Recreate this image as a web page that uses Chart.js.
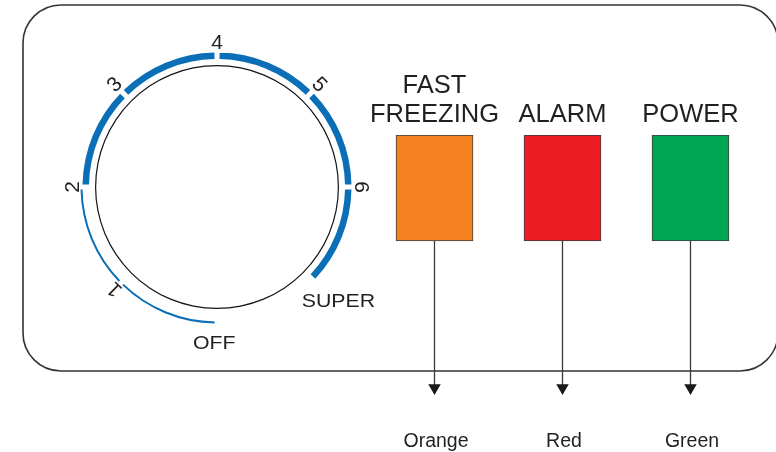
<!DOCTYPE html>
<html><head><meta charset="utf-8">
<script src="https://cdn.jsdelivr.net/npm/chart.js@4.4.1/dist/chart.umd.min.js"></script>
<style>
html,body{margin:0;padding:0;background:#fff;}
#wrap{position:relative;width:776px;height:452px;overflow:hidden;background:#fff;}
#wrap canvas{position:absolute;left:0;top:0;}
</style></head><body>
<div id="wrap"><canvas id="panel" width="776" height="452"></canvas><canvas id="dial" width="776" height="452"></canvas></div>
<script>
// ---------- data ----------
const dialMarks = ['OFF', '1', '2', '3', '4', '5', '6', 'SUPER'];
const dialSpans = [44, 45, 45, 45, 45, 45, 43];   // degrees between consecutive dial marks
const thinSpans = 2;                               // OFF→1 and 1→2 sit on the thin track
const ledNames = ['FAST FREEZING', 'ALARM', 'POWER'];
const ledTitleLines = [['FAST', 'FREEZING'], ['ALARM'], ['POWER']];
const ledColorNames = ['Orange', 'Red', 'Green'];
const ledLit = [1, 1, 1];

// ---------- style / layout ----------
const FONT = '"Liberation Sans", Arial, Helvetica, sans-serif';
const INK = '#231f20';
const BLUE = '#0b6fb7';
const CLEAR = 'rgba(0,0,0,0)';
const ledFills = ['#f58220', '#ed1c24', '#00a651'];
const DIAL_START = 181;   // deg clockwise from 12 o'clock where OFF sits
const GAP = 2.2;          // deg gap at every inner mark
const ARROW_LEN = 1.385;  // arrow length in lamp heights
const Y_MIN = -211 / 106; // lower end of the panel scale, in lamp heights

// mark angles (deg, clockwise from top)
const markDeg = [DIAL_START];
dialSpans.forEach((s, i) => markDeg.push(markDeg[i] + s));
const lastMark = dialMarks.length - 1;

function track(fromMark, toMark) {
  const data = [], colors = [];
  let rotation = null, prevEnd = null;
  for (let k = fromMark; k < toMark; k++) {
    const s = markDeg[k] + (k > 0 ? GAP / 2 : 0);
    const e = markDeg[k + 1] - (k + 1 < lastMark ? GAP / 2 : 0);
    if (rotation === null) rotation = s;
    else { data.push(s - prevEnd); colors.push(CLEAR); }
    data.push(e - s); colors.push(BLUE);
    prevEnd = e;
  }
  return { data, backgroundColor: colors, rotation, circumference: prevEnd - rotation };
}

const arcBase = { borderWidth: 0, hoverOffset: 0, offset: 0, spacing: 0 };
const thinTrack  = Object.assign({ label: 'thin',  weight: 2 },   track(0, thinSpans), arcBase);
const thickTrack = Object.assign({ label: 'thick', weight: 6.5 }, track(thinSpans, lastMark), arcBase);
const spacer = Object.assign({ label: 'spacer', weight: 6, data: [360], backgroundColor: [CLEAR] }, arcBase);
const knob   = Object.assign({ label: 'knob',   weight: 1.2, data: [360], backgroundColor: ['#151515'] }, arcBase);

const dialLabels = {
  id: 'dialLabels',
  afterDraw(chart) {
    const ctx = chart.ctx;
    const first = chart.getDatasetMeta(0).data[0];
    const cx = first.x, cy = first.y;
    let deg = first.startAngle * 180 / Math.PI + 90;
    ctx.save();
    ctx.fillStyle = INK;
    ctx.textAlign = 'center';
    ctx.textBaseline = 'alphabetic';
    dialMarks.forEach((m, k) => {
      if (k > 0) deg += dialSpans[k - 1];
      const t = deg * Math.PI / 180;
      if (k === 0 || k === lastMark) {
        const r = k === 0 ? 155 : 166;
        const size = 19;
        ctx.font = size + 'px ' + FONT;
        ctx.save();
        ctx.translate(cx + r * Math.sin(t), cy - r * Math.cos(t));
        ctx.scale(1.12, 1);
        ctx.fillText(m, 0, size * 0.358);
        ctx.restore();
      } else {
        const r = 146;
        const size = 21;
        ctx.font = size + 'px ' + FONT;
        ctx.save();
        ctx.translate(cx + r * Math.sin(t), cy - r * Math.cos(t));
        ctx.rotate(t);
        ctx.fillText(m, 0, size * 0.358);
        ctx.restore();
      }
    });
    ctx.restore();
  }
};

new Chart(document.getElementById('dial'), {
  type: 'doughnut',
  data: { labels: [], datasets: [thinTrack, thickTrack, spacer, knob] },
  options: {
    responsive: false, animation: false, events: [],
    cutout: 120.8,
    layout: { autoPadding: false, padding: { left: 80.5, top: 50.5, right: 422.5, bottom: 128.5 } },
    plugins: { legend: { display: false }, tooltip: { enabled: false } }
  },
  plugins: [dialLabels]
});

const panelDecor = {
  id: 'panelDecor',
  beforeDraw(chart) {
    const ctx = chart.ctx;
    const x = 23, y = 5, w = 755, h = 366, r = 38;
    ctx.save();
    ctx.beginPath();
    ctx.moveTo(x + r, y);
    ctx.lineTo(x + w - r, y);
    ctx.arcTo(x + w, y, x + w, y + r, r);
    ctx.lineTo(x + w, y + h - r);
    ctx.arcTo(x + w, y + h, x + w - r, y + h, r);
    ctx.lineTo(x + r, y + h);
    ctx.arcTo(x, y + h, x, y + h - r, r);
    ctx.lineTo(x, y + r);
    ctx.arcTo(x, y, x + r, y, r);
    ctx.closePath();
    ctx.strokeStyle = '#333';
    ctx.lineWidth = 1.6;
    ctx.stroke();
    ctx.restore();
  },
  afterDatasetsDraw(chart) {
    const ctx = chart.ctx;
    const bars = chart.getDatasetMeta(0).data;
    ctx.save();
    ctx.fillStyle = INK;
    ctx.textAlign = 'center';
    ctx.textBaseline = 'alphabetic';
    bars.forEach((bar, i) => {
      const lines = ledTitleLines[i];
      const tSize = 25.5;
      ctx.font = tSize + 'px ' + FONT;
      lines.forEach((ln, j) => {
        const cyLine = bar.y - 22.5 - (lines.length - 1 - j) * 29;
        ctx.fillText(ln, bar.x, cyLine + tSize * 0.358);
      });
      const tip = chart.getDatasetMeta(1 + i).data[1];
      const nSize = 19.5;
      ctx.font = nSize + 'px ' + FONT;
      ctx.fillText(ledColorNames[i], tip.x + 1.5, tip.y + 52 + nSize * 0.358);
    });
    ctx.restore();
  }
};

new Chart(document.getElementById('panel'), {
  type: 'bar',
  data: {
    labels: ledNames,
    datasets: [
      { type: 'bar', label: 'lamps', data: ledLit.map(v => [0, v]), backgroundColor: ledFills,
        borderColor: '#3c3c3c', borderWidth: 1, borderSkipped: false, barThickness: 77 },
      ...ledNames.map((n, i) => ({
        type: 'line', label: ledColorNames[i],
        data: [{ x: n, y: 0 }, { x: n, y: -ARROW_LEN }],
        borderColor: '#3a3a3a', borderWidth: 1.3, fill: false, clip: false,
        pointStyle: 'triangle', pointRotation: 180, pointRadius: [0, 7.2],
        pointBackgroundColor: '#1a1a1a', pointBorderColor: '#1a1a1a', pointBorderWidth: 0
      }))
    ]
  },
  options: {
    responsive: false, animation: false, events: [],
    layout: { autoPadding: false, padding: { left: 370.5, right: 21.5, top: 135, bottom: 0 } },
    scales: { x: { display: false }, y: { display: false, min: Y_MIN, max: 1 } },
    plugins: { legend: { display: false }, tooltip: { enabled: false } }
  },
  plugins: [panelDecor]
});
</script>
</body></html>
